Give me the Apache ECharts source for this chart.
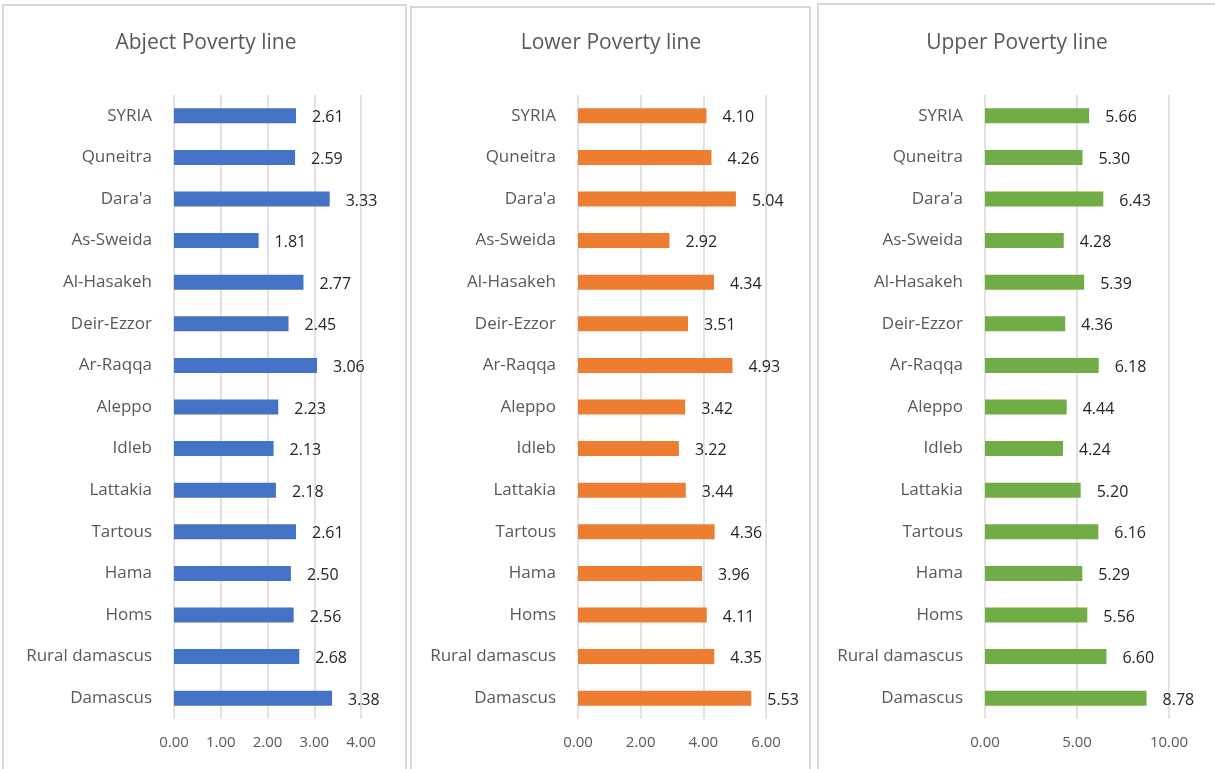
<!DOCTYPE html>
<html>
<head>
<meta charset="utf-8">
<script src="https://cdn.jsdelivr.net/npm/echarts@6/dist/echarts.min.js"></script>
<style>
	html, body { margin: 0; padding: 0; background: #fff; }
	#chart { width: 1215px; height: 769px; }
</style>
</head>
<body>
<div id="chart"></div>
<script>
const regions = ['SYRIA', 'Quneitra', "Dara'a", 'As-Sweida', 'Al-Hasakeh', 'Deir-Ezzor', 'Ar-Raqqa',
	'Aleppo', 'Idleb', 'Lattakia', 'Tartous', 'Hama', 'Homs', 'Rural damascus', 'Damascus']
const abject = [2.61, 2.59, 3.33, 1.81, 2.77, 2.45, 3.06, 2.23, 2.13, 2.18, 2.61, 2.50, 2.56, 2.68, 3.38]
const lower = [4.10, 4.26, 5.04, 2.92, 4.34, 3.51, 4.93, 3.42, 3.22, 3.44, 4.36, 3.96, 4.11, 4.35, 5.53]
const upper = [5.66, 5.30, 6.43, 4.28, 5.39, 4.36, 6.18, 4.44, 4.24, 5.20, 6.16, 5.29, 5.56, 6.60, 8.78]
const titles = ['Abject Poverty line', 'Lower Poverty line', 'Upper Poverty line']
const colors = ['#4472c4', '#ed7d31', '#70ad47']

const font = '"Open Sans", "Noto Sans", sans-serif'

// panel boxes and plot areas, in pixels
const panels = [
	{ box: [3, 5, 403, 770], left: 174, width: 187, max: 4, interval: 1, cx: 206 },
	{ box: [411, 7, 399, 770], left: 578, width: 188, max: 6, interval: 2, cx: 611 },
	{ box: [818, 4, 400, 770], left: 985, width: 184, max: 10, interval: 5, cx: 1017 }
]
const values = [abject, lower, upper]

const chart = echarts.init(document.getElementById('chart'))

const option = {
	backgroundColor: '#fff',
	animation: false,
	textStyle: { fontFamily: font },
	graphic: panels.map((p, i) => ({
		type: 'group',
		children: [
			{
				type: 'rect', z: -10,
				shape: { x: p.box[0], y: p.box[1], width: p.box[2], height: p.box[3] },
				style: { fill: '#fff', stroke: '#d9d9d9', lineWidth: 2 }
			},
			{
				type: 'text',
				x: p.cx, y: 43,
				style: {
					text: titles[i], fill: '#595959', font: '21px ' + font,
					align: 'center', verticalAlign: 'middle'
				}
			}
		]
	})),
	grid: panels.map(p => ({ left: p.left, width: p.width, top: 95, bottom: 50 })),
	xAxis: panels.map((p, i) => ({
		type: 'value', gridIndex: i, min: 0, max: p.max, interval: p.interval,
		axisLine: { show: false }, axisTick: { show: false },
		splitLine: { lineStyle: { color: '#d9d9d9', width: 1.5 } },
		axisLabel: {
			color: '#595959', fontSize: 15, margin: 16, fontFamily: font,
			formatter: v => v.toFixed(2)
		}
	})),
	yAxis: panels.map((p, i) => ({
		type: 'category', gridIndex: i, data: regions, inverse: true,
		axisLine: { show: false }, axisTick: { show: false },
		axisLabel: { color: '#595959', fontSize: 17, margin: 22, fontFamily: font }
	})),
	series: values.map((v, i) => ({
		type: 'bar', xAxisIndex: i, yAxisIndex: i, data: v,
		barWidth: 15,
		itemStyle: { color: colors[i] },
		label: {
			show: true, position: 'right', distance: 16, offset: [0, 2],
			color: '#262626', fontSize: 16, fontFamily: font,
			formatter: p => p.value.toFixed(2)
		}
	}))
}

chart.setOption(option)
</script>
</body>
</html>
